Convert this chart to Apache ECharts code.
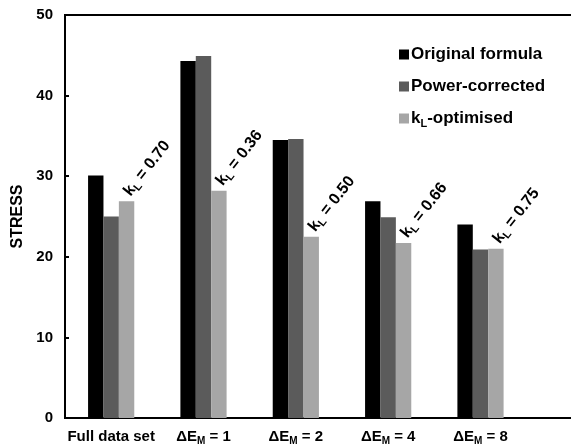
<!DOCTYPE html>
<html>
<head>
<meta charset="utf-8">
<script src="https://cdn.jsdelivr.net/npm/echarts@6/dist/echarts.min.js"></script>
<style>
html,body{margin:0;padding:0;background:#fff;}
#chart{width:571px;height:446px;}
</style>
</head>
<body>
<div id="chart"></div>
<script>
var categories = ['Full data set', 'ΔE_M = 1', 'ΔE_M = 2', 'ΔE_M = 4', 'ΔE_M = 8'];
var seriesNames = ['Original formula', 'Power-corrected', 'k_L-optimised'];
var originalFormula = [30.1, 44.3, 34.5, 26.9, 24.0];
var powerCorrected = [25.0, 44.9, 34.6, 24.9, 20.9];
var kLOptimised = [26.9, 28.2, 22.5, 21.7, 21.0];
var kLValues = ['0.70', '0.36', '0.50', '0.66', '0.75'];
var yTicks = [0, 10, 20, 30, 40, 50];

var FONT = '"Liberation Sans", Arial, sans-serif';
function toRich(s) {
  var m = s.match(/^(.*?)_(\S)(.*)$/);
  if (!m) return '{a|' + s + '}';
  return '{a|' + m[1] + '}{s|' + m[2] + '}{a|' + m[3] + '}';
}
function makeRich(big, small, drop, lh) {
  var a = {fontFamily: FONT, fontWeight: 'bold', fontSize: big, color: '#000'};
  if (lh) a.lineHeight = lh;
  return {
    a: a,
    s: {fontFamily: FONT, fontWeight: 'bold', fontSize: small, color: '#000', padding: [drop, 0, 0, 0]}
  };
}
// an extra empty slot continues the cropped plot frame beyond the right edge
var xData = categories.concat(['']);
function pad(arr) { return arr.concat([null]); }
var colors = ['#000000', '#5b5b5b', '#a6a6a6'];

var chart = echarts.init(document.getElementById('chart'));
chart.setOption({
  animation: false,
  backgroundColor: '#fff',
  grid: {left: 65, top: 15, bottom: 28, width: 554, outerBoundsMode: 'none', containLabel: false,
    show: true, borderColor: '#000', borderWidth: 2, backgroundColor: 'transparent'},
  legend: {
    orient: 'vertical', left: 394, top: 41,
    itemWidth: 10, itemHeight: 10, itemGap: 15, icon: 'rect',
    data: seriesNames,
    formatter: function (n) { return toRich(n); },
    textStyle: {fontFamily: FONT, fontWeight: 'bold', fontSize: 17, color: '#000', padding: [0,0,0,-3],
      rich: makeRich(17, 11, 10)}
  },
  xAxis: {
    type: 'category', data: xData,
    axisLine: {lineStyle: {color: '#000', width: 2}},
    axisTick: {show: false},
    axisLabel: {margin: 9, interval: 0, formatter: function (v) { return v ? toRich(v) : ''; }, rich: makeRich(15, 10, 9, 20)}
  },
  yAxis: {
    type: 'value', min: yTicks[0], max: yTicks[yTicks.length - 1], interval: 10,
    name: 'STRESS', nameLocation: 'middle', nameGap: 37, nameRotate: 90,
    nameTextStyle: {fontFamily: FONT, fontWeight: 'bold', fontSize: 16, color: '#000'},
    axisLine: {show: true, lineStyle: {color: '#000', width: 2}},
    axisTick: {show: true, inside: true, length: 4, lineStyle: {color: '#000', width: 2}},
    splitLine: {show: false},
    axisLabel: {margin: 12, fontFamily: FONT, fontWeight: 'bold', fontSize: 15, color: '#000'}
  },
  series: [
    {name: seriesNames[0], type: 'bar', data: pad(originalFormula), barWidth: 15.4, barGap: '0%', itemStyle: {color: colors[0]}},
    {name: seriesNames[1], type: 'bar', data: pad(powerCorrected), barWidth: 15.4, barGap: '0%', itemStyle: {color: colors[1]}},
    {name: seriesNames[2], type: 'bar', data: pad(kLOptimised), barWidth: 15.4, barGap: '0%', itemStyle: {color: colors[2]},
      label: {show: true, position: 'top', distance: 5, rotate: 52, align: 'left', verticalAlign: 'middle', offset: [2, -1],
        formatter: function (p) { return toRich('k_L = ' + kLValues[p.dataIndex]); },
        rich: makeRich(16, 11, 9)}}
  ]
});
</script>
</body>
</html>
